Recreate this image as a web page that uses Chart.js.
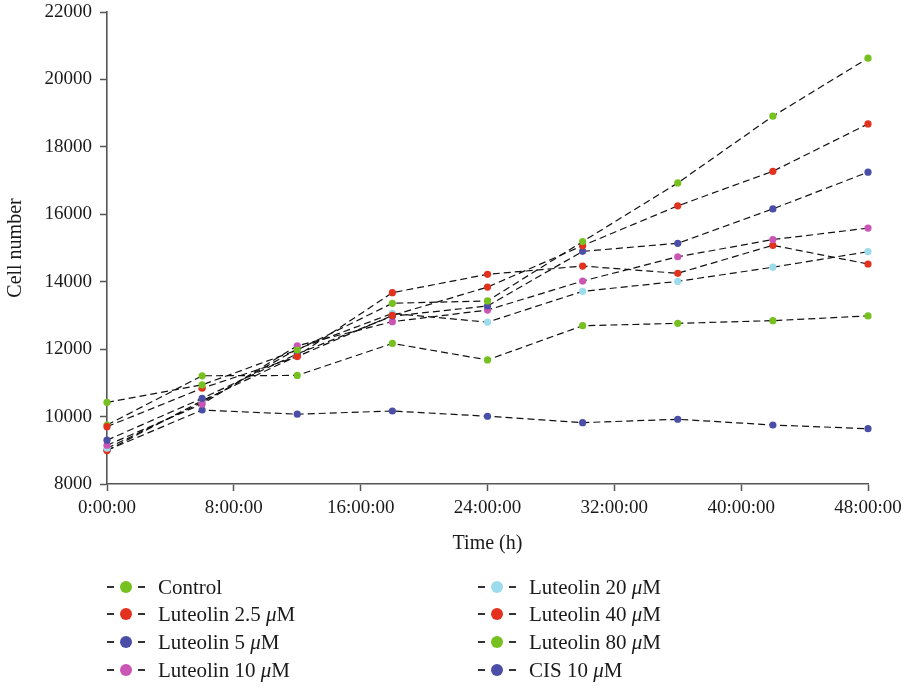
<!DOCTYPE html>
<html>
<head>
<meta charset="utf-8">
<title>Cell number over time</title>
<script src="https://cdn.jsdelivr.net/npm/chart.js@4/dist/chart.umd.min.js"></script>
<style>
  html, body { margin: 0; padding: 0; background: #fff; }
  #wrap { position: relative; width: 903px; height: 688px; }
  #legend {
    position: absolute; left: 0; top: 0; width: 903px; height: 688px;
    pointer-events: none; font-family: "Liberation Serif", serif; font-size: 21px; color: #1a1a1a;
  }
  .item { position: absolute; height: 28px; display: flex; align-items: center; white-space: nowrap; }
  .mk { position: relative; width: 38px; height: 14px; margin-right: 13px; flex: none; }
  .mk .d1, .mk .d2 { position: absolute; top: 6px; width: 7px; height: 1.6px; background: #333; }
  .mk .d1 { left: 0; }
  .mk .d2 { right: 0; }
  .mk .c { position: absolute; left: 13px; top: 1px; width: 12px; height: 12px; border-radius: 50%; }
</style>
</head>
<body>
<div id="wrap">
  <canvas id="c" width="903" height="688"></canvas>
  <div id="legend"></div>
</div>
<script>
// Sampling times (hours)
const hours = [0, 6, 12, 18, 24, 30, 36, 42, 48];
const xTicks = [0, 8, 16, 24, 32, 40, 48];
const yTicks = [8000, 10000, 12000, 14000, 16000, 18000, 20000, 22000];

// Cell counts per treatment
const control   = [10420, 10940, 11975, 13360, 13430, 15190, 16930, 18910, 20630];
const lut2_5    = [9700, 10840, 11780, 13000, 13840, 15070, 16250, 17275, 18680];
const lut5      = [9300, 10540, 11860, 12980, 13280, 14900, 15140, 16160, 17250];
const lut10     = [9150, 10370, 12100, 12815, 13160, 14020, 14740, 15250, 15590];
const lut20     = [9060, 10420, 12000, 13060, 12800, 13715, 14010, 14430, 14890];
const lut40     = [8990, 10470, 11800, 13675, 14220, 14465, 14250, 15080, 14525];
const lut80     = [9750, 11210, 11220, 12170, 11680, 12695, 12765, 12845, 12985];
const cis10     = [9000, 10195, 10070, 10165, 10010, 9820, 9920, 9750, 9640];

const seriesLabels = ['Control', 'Luteolin 2.5 μM', 'Luteolin 5 μM', 'Luteolin 10 μM',
                      'Luteolin 20 μM', 'Luteolin 40 μM', 'Luteolin 80 μM', 'CIS 10 μM'];
const seriesValues = [control, lut2_5, lut5, lut10, lut20, lut40, lut80, cis10];
const seriesColors = ['#76c11f', '#e2311d', '#4a4ea6', '#cb55b4', '#9ddcec', '#e2311d', '#76c11f', '#4a4ea6'];

const FONT = '"Liberation Serif", "Times New Roman", serif';
const AXIS = '#555';

const datasets = seriesLabels.map((label, i) => ({
  label,
  data: hours.map((h, j) => ({ x: h, y: seriesValues[i][j] })),
  borderColor: '#111',
  borderWidth: 1.2,
  borderDash: [7, 4],
  pointRadius: 3.6,
  pointBorderWidth: 0,
  pointBackgroundColor: seriesColors[i],
  pointBorderColor: seriesColors[i],
  fill: false,
  tension: 0,
  clip: false
}));

new Chart(document.getElementById('c'), {
  type: 'line',
  data: { datasets },
  options: {
    responsive: false,
    animation: false,
    devicePixelRatio: 1,
    layout: { padding: { top: 12, right: 35, bottom: 130, left: 0 } },
    plugins: { legend: { display: false }, tooltip: { enabled: false } },
    scales: {
      x: {
        type: 'linear',
        min: 0, max: 48,
        afterBuildTicks: s => { s.ticks = xTicks.map(v => ({ value: v })); },
        afterFit: s => { s.height = 74; s.paddingLeft = 0; s.paddingRight = 0; },
        ticks: {
          callback: v => v + ':00:00',
          font: { family: FONT, size: 19 },
          color: '#1a1a1a',
          padding: 6,
          maxRotation: 0
        },
        grid: { drawOnChartArea: false, drawTicks: true, tickLength: 7, tickColor: AXIS, tickWidth: 1.5 },
        border: { color: AXIS, width: 1.6 },
        title: { display: true, text: 'Time (h)', font: { family: FONT, size: 20 }, color: '#1a1a1a', padding: { top: 4, bottom: 2 } }
      },
      y: {
        min: 8000, max: 22000,
        afterBuildTicks: s => { s.ticks = yTicks.map(v => ({ value: v })); },
        afterFit: s => { s.width = 107; s.paddingTop = 0; s.paddingBottom = 0; },
        ticks: {
          callback: v => String(v),
          font: { family: FONT, size: 19 },
          color: '#1a1a1a',
          padding: 8
        },
        grid: { drawOnChartArea: false, drawTicks: true, tickLength: 7, tickColor: AXIS, tickWidth: 1.5 },
        border: { color: AXIS, width: 1.6 },
        title: { display: true, text: 'Cell number', font: { family: FONT, size: 20 }, color: '#1a1a1a', padding: { top: 4, bottom: 4 } }
      }
    }
  }
});

// Two-column legend under the plot
const legendEl = document.getElementById('legend');
const colLeft = [107, 478];
const rowCenter = [587, 614, 642, 670];
seriesLabels.forEach((label, i) => {
  const item = document.createElement('div');
  item.className = 'item';
  item.style.left = colLeft[Math.floor(i / 4)] + 'px';
  item.style.top = (rowCenter[i % 4] - 14) + 'px';
  const mk = document.createElement('span');
  mk.className = 'mk';
  mk.innerHTML = '<span class="d1"></span><span class="c" style="background:' + seriesColors[i] + '"></span><span class="d2"></span>';
  const txt = document.createElement('span');
  txt.innerHTML = label.replace('μ', '<i>μ</i>');
  item.appendChild(mk);
  item.appendChild(txt);
  legendEl.appendChild(item);
});
</script>
</body>
</html>
